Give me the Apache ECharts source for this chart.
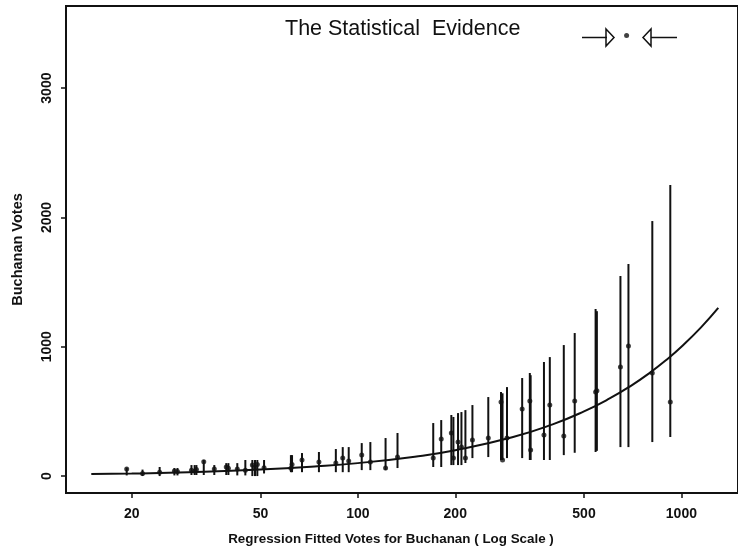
<!DOCTYPE html>
<html>
<head>
<meta charset="utf-8">
<script src="https://cdn.jsdelivr.net/npm/echarts@6/dist/echarts.min.js"></script>
<style>
html, body { margin: 0; background: #fff; }
#chart { width: 738px; height: 555px; }
</style>
</head>
<body>
<div id="chart"></div>
<script>
// regression fitted votes (x), observed Buchanan votes, interval low / high
const fitted = [19.3, 21.6, 24.4, 27.1, 27.7, 30.6, 31.3, 31.7, 33.4, 36.0,
    39.2, 39.8, 42.4, 44.9, 47.2, 48.1, 48.9, 51.3, 62.1, 62.6,
    67.2, 75.8, 85.5, 89.8, 93.7, 102.8, 109.3, 121.8, 132.6, 171,
    181, 194.5, 197.4, 204, 209, 215, 226, 253, 277, 280,
    289, 322, 340, 342, 376, 392, 433, 468, 543, 548,
    648, 686, 813, 924];
const observed = [55, 20, 30, 40, 35, 45, 40, 50, 110, 55,
    70, 60, 55, 45, 85, 70, 90, 65, 60, 90,
    124, 108, 101, 139, 116, 162, 108, 62, 147, 139,
    286, 333, 139, 263, 224, 139, 278, 294, 572, 124,
    294, 518, 580, 201, 317, 549, 309, 580, 650, 660,
    843, 1005, 797, 572];
const lower = [5, 0, 0, 5, 5, 8, 8, 8, 8, 8,
    8, 8, 5, 5, 0, 0, 0, 20, 30, 30,
    30, 30, 30, 30, 30, 46, 46, 46, 62, 70,
    70, 85, 85, 85, 85, 101, 139, 147, 124, 124,
    139, 139, 124, 124, 124, 124, 162, 180, 186, 195,
    224, 224, 263, 302];
const upper = [65, 50, 70, 62, 62, 85, 85, 85, 124, 85,
    100, 100, 100, 124, 124, 124, 124, 124, 162, 162,
    178, 186, 209, 224, 224, 255, 263, 294, 333, 410,
    433, 472, 457, 487, 495, 510, 549, 611, 650, 640,
    688, 758, 797, 780, 882, 920, 1013, 1106, 1292, 1275,
    1547, 1640, 1972, 2251];
// Palm Beach county
const palmBeach = [677, 3407];
// fitted curve (observed = fitted)
const curveX = [15, 20, 30, 50, 75, 100, 150, 200, 300, 400, 500, 600, 700, 800, 900, 1000, 1150, 1300];
const curveY = [15, 20, 30, 50, 75, 100, 150, 200, 300, 400, 500, 600, 700, 800, 900, 1000, 1150, 1300];
const xTicks = [20, 50, 100, 200, 500, 1000];
const yTicks = [0, 1000, 2000, 3000];

const ink = '#111';
const font = 'Liberation Sans, Arial, sans-serif';

const barData = fitted.map((x, i) => [x, lower[i], upper[i]]);
const pointData = fitted.map((x, i) => [x, observed[i]]);
pointData.push(palmBeach);
const curveData = curveX.map((x, i) => [x, curveY[i]]);

const chart = echarts.init(document.getElementById('chart'));
const option = {
    animation: false,
    backgroundColor: '#fff',
    grid: {
        left: 66, right: -3, top: 6, bottom: 62,
        show: true, borderColor: ink, borderWidth: 2, backgroundColor: 'transparent'
    },
    xAxis: {
        type: 'log',
        logBase: 10,
        min: 12.53,
        max: 1496,
        name: 'Regression Fitted Votes for Buchanan ( Log Scale )',
        nameLocation: 'middle',
        nameGap: 40,
        nameTextStyle: { color: ink, fontFamily: font, fontSize: 13.4, fontWeight: 'bold', padding: [0, 22, 0, 0] },
        axisLine: { show: false, onZero: false },
        splitLine: { show: false },
        axisTick: { show: true, inside: false, length: 5, customValues: xTicks, lineStyle: { color: ink, width: 1.5 } },
        axisLabel: {
            customValues: xTicks, margin: 14, color: ink,
            fontFamily: font, fontSize: 14, fontWeight: 'bold',
            formatter: v => String(Math.round(v))
        },
        minorTick: { show: false }
    },
    yAxis: {
        type: 'value',
        min: -131,
        max: 3635,
        name: 'Buchanan Votes',
        nameLocation: 'middle',
        nameGap: 41,
        nameTextStyle: { color: ink, fontFamily: font, fontSize: 14.5, fontWeight: 'bold' },
        axisLine: { show: false, onZero: false },
        splitLine: { show: false },
        axisTick: { show: true, inside: false, length: 5, customValues: yTicks, lineStyle: { color: ink, width: 1.5 } },
        axisLabel: {
            customValues: yTicks, rotate: 90, margin: 12, color: ink,
            fontFamily: font, fontSize: 14, fontWeight: 'bold',
            formatter: v => String(v)
        }
    },
    series: [
        {
            type: 'custom',
            data: barData,
            encode: { x: 0, y: [1, 2] },
            renderItem: (params, api) => {
                const p1 = api.coord([api.value(0), api.value(1)]);
                const p2 = api.coord([api.value(0), api.value(2)]);
                return {
                    type: 'line',
                    shape: { x1: p1[0], y1: p1[1], x2: p2[0], y2: p2[1] },
                    style: { stroke: ink, lineWidth: 2 }
                };
            },
            z: 3
        },
        {
            type: 'line',
            data: curveData,
            showSymbol: false,
            smooth: true,
            lineStyle: { color: ink, width: 2 },
            z: 4
        },
        {
            type: 'scatter',
            data: pointData,
            symbol: 'circle',
            symbolSize: 5,
            itemStyle: { color: ink },
            z: 5
        }
    ],
    graphic: [
        {
            type: 'text', left: 285, top: 18,
            style: { text: 'The Statistical  Evidence', fill: ink, font: '21.5px ' + font }
        },
        // arrows pointing at Palm Beach
        { type: 'line', shape: { x1: 582, y1: 37.5, x2: 607, y2: 37.5 }, style: { stroke: ink, lineWidth: 1.5 } },
        { type: 'polygon', shape: { points: [[606, 29], [614, 37.5], [606, 46]] }, style: { stroke: ink, fill: 'none', lineWidth: 1.5 } },
        { type: 'line', shape: { x1: 651, y1: 37.5, x2: 677, y2: 37.5 }, style: { stroke: ink, lineWidth: 1.5 } },
        { type: 'polygon', shape: { points: [[651, 29], [643, 37.5], [651, 46]] }, style: { stroke: ink, fill: 'none', lineWidth: 1.5 } }
    ]
};
chart.setOption(option);
</script>
</body>
</html>
